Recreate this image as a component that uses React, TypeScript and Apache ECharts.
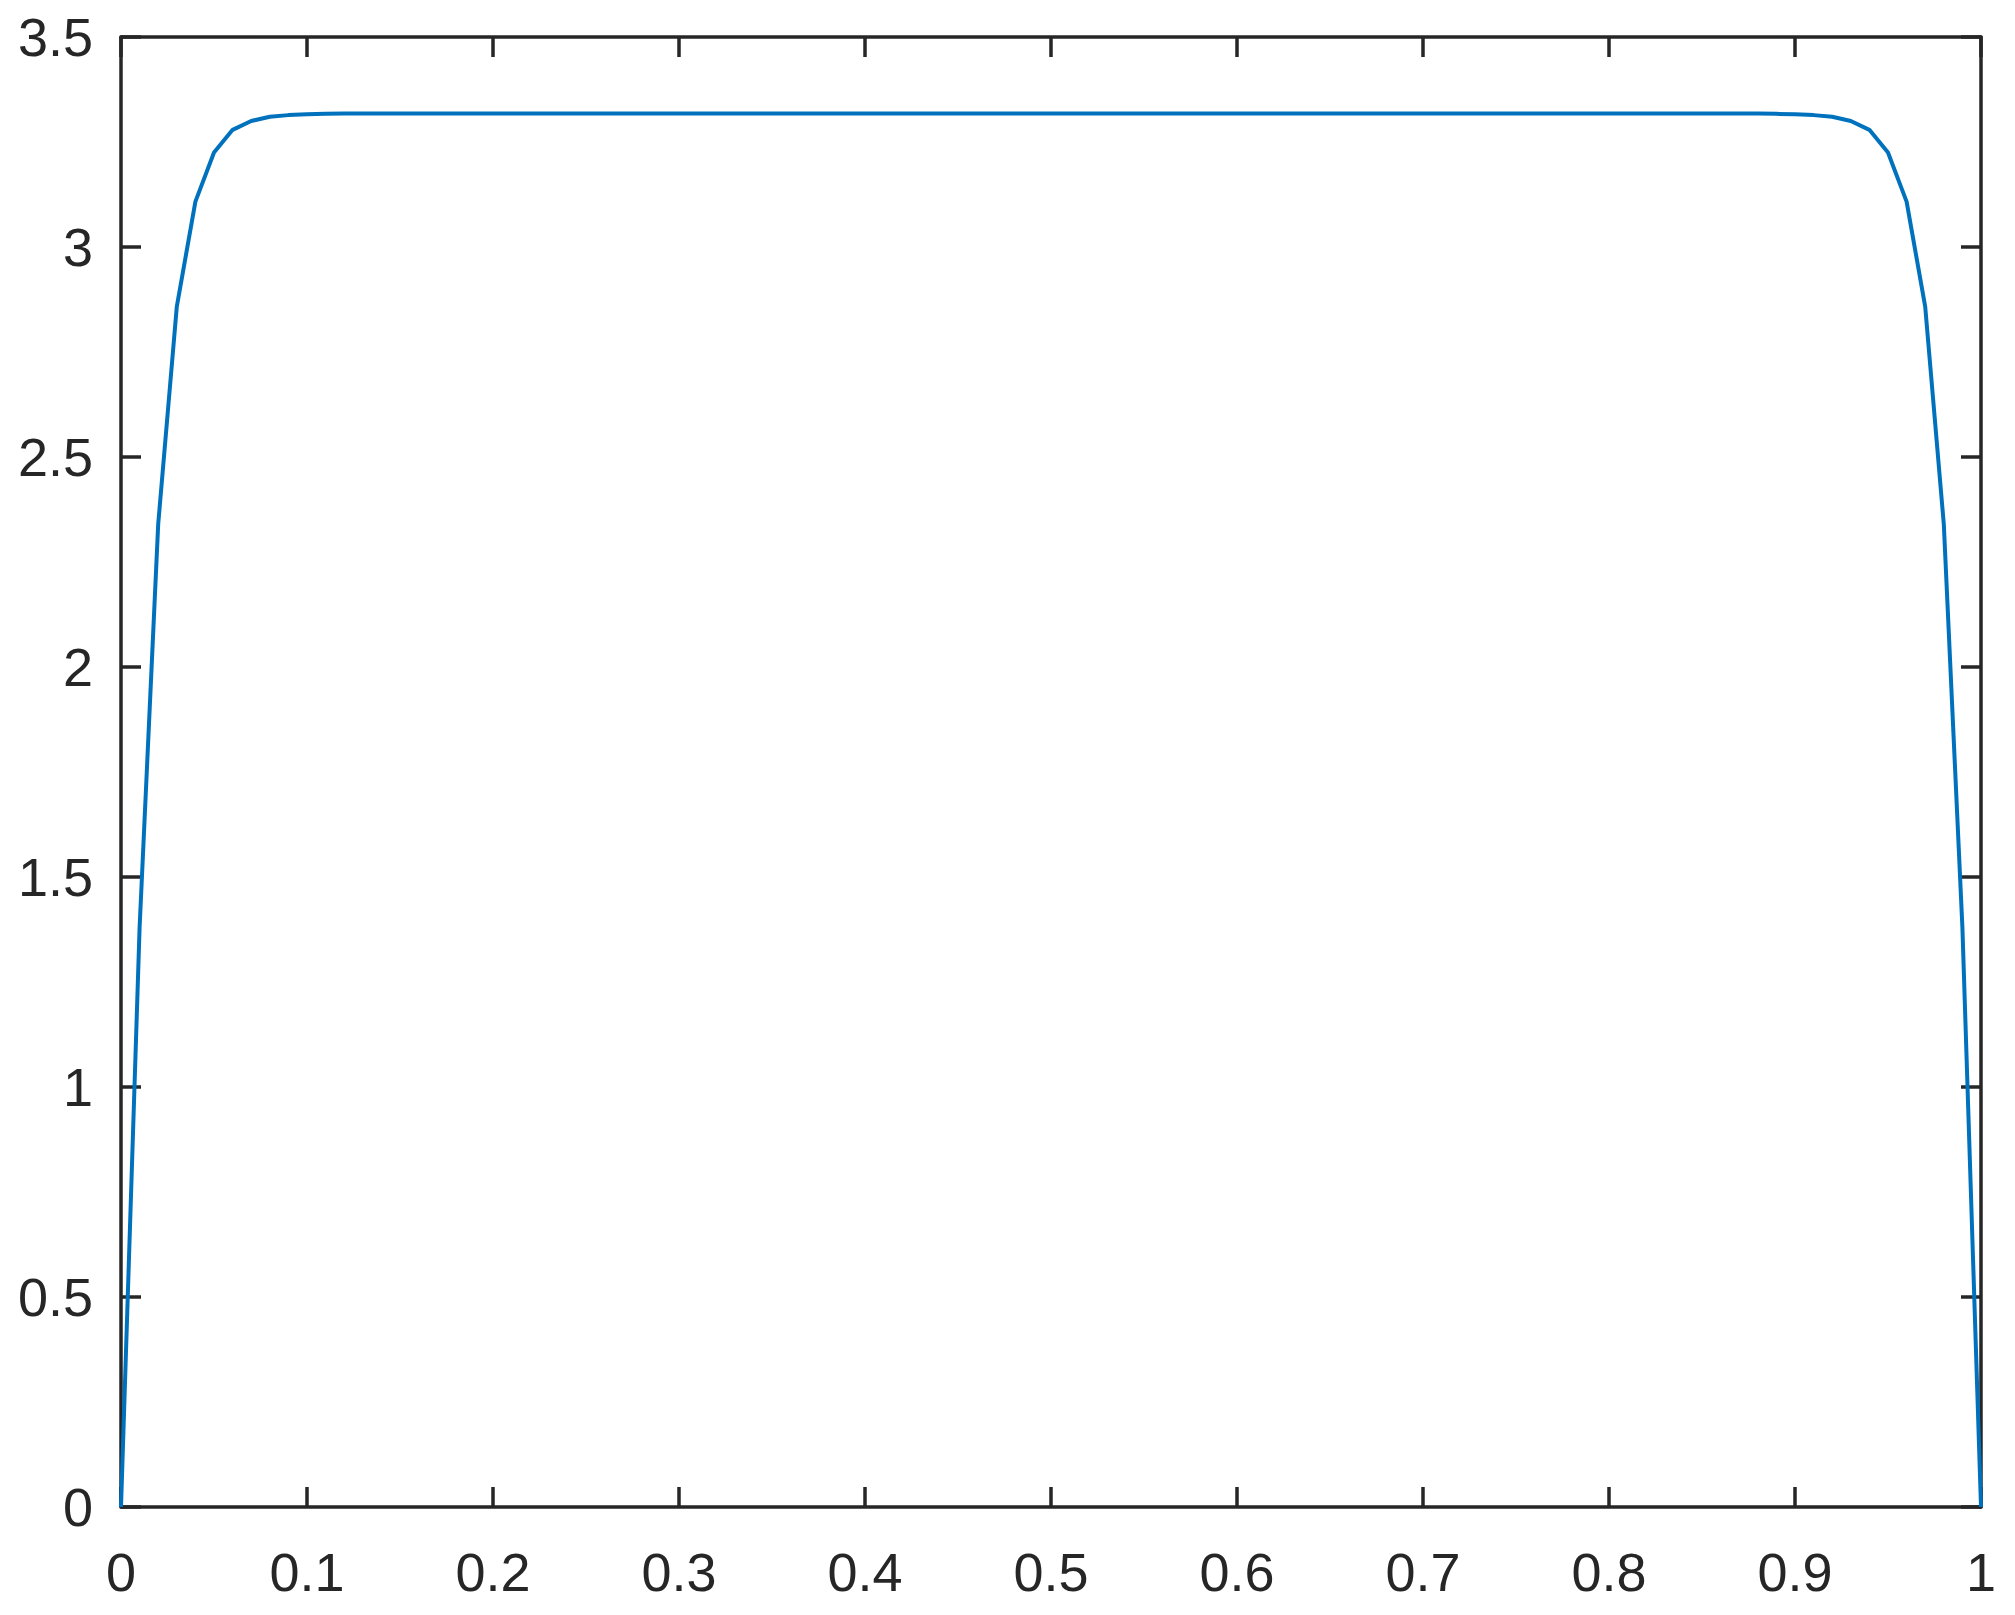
import React, { useEffect, useRef } from "react";
import * as echarts from "echarts";

// sampled y values at x = 0, 0.01, ..., 1.00
const edgeRise = [0, 1.38, 2.34, 2.858, 3.108, 3.225, 3.279, 3.3, 3.31, 3.314, 3.316, 3.317];
const plateau = 3.318;
const edgeFall = [3.317, 3.316, 3.314, 3.31, 3.3, 3.279, 3.225, 3.108, 2.858, 2.34, 1.38, 0];

const xTicks = { min: 0, max: 1, interval: 0.1 };
const yTicks = { min: 0, max: 3.5, interval: 0.5 };

function buildYValues(): number[] {
  const out: number[] = [];
  for (let i = 0; i <= 100; i++) {
    if (i < edgeRise.length) out.push(edgeRise[i]);
    else if (i > 100 - edgeFall.length) out.push(edgeFall[i - (101 - edgeFall.length)]);
    else out.push(plateau);
  }
  return out;
}

export default function App() {
  const ref = useRef<HTMLDivElement>(null);
  useEffect(() => {
    if (!ref.current) return;
    const chart = echarts.init(ref.current, undefined, { renderer: "svg" });
    const ys = buildYValues();
    const data = ys.map((y, i) => [i / 100, y]);
    const axisColor = "#262626";
    const font = "'Liberation Sans', Arial, Helvetica, sans-serif";
    const common = {
      axisLine: { show: true, onZero: false, lineStyle: { color: axisColor, width: 3.5 } },
      axisTick: { show: true, inside: true, length: 20, lineStyle: { color: axisColor, width: 3.5 } },
      splitLine: { show: false },
    };
    chart.setOption({
      animation: false,
      backgroundColor: "#ffffff",
      grid: { left: 121, top: 37, width: 1860, height: 1470, containLabel: false },
      xAxis: [
        {
          type: "value",
          position: "bottom",
          ...xTicks,
          ...common,
          axisLabel: { show: true, color: axisColor, fontSize: 54, fontFamily: font, margin: 38 },
        },
        {
          type: "value",
          position: "top",
          ...xTicks,
          ...common,
          axisLabel: { show: false },
        },
      ],
      yAxis: [
        {
          type: "value",
          position: "left",
          ...yTicks,
          ...common,
          axisLabel: { show: true, color: axisColor, fontSize: 54, fontFamily: font, margin: 28 },
        },
        {
          type: "value",
          position: "right",
          ...yTicks,
          ...common,
          axisLabel: { show: false },
        },
      ],
      series: [
        {
          type: "line",
          data,
          xAxisIndex: 0,
          yAxisIndex: 0,
          showSymbol: false,
          symbol: "none",
          lineStyle: { color: "#0072BD", width: 4 },
          clip: false,
        },
      ],
    });
    return () => chart.dispose();
  }, []);
  return (
    <div
      ref={ref}
      style={{ position: "fixed", left: 0, top: 0, width: 2015, height: 1615, background: "#fff" }}
    />
  );
}
